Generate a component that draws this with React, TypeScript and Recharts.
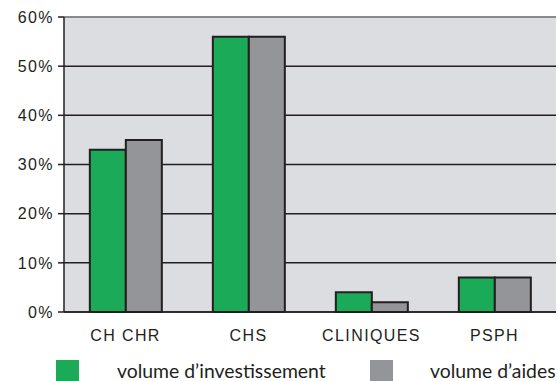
import { BarChart, Bar, XAxis, YAxis, CartesianGrid, ReferenceLine } from "recharts"

const categories = ["CH CHR", "CHS", "CLINIQUES", "PSPH"]
const investissement = [33, 56, 4, 7]
const aides = [35, 56, 2, 7]
const seriesNames = ["volume d’investissement", "volume d’aides"]
const yTicks = [0, 10, 20, 30, 40, 50, 60]

const data = categories.map((name, i) => ({ name, inv: investissement[i], aid: aides[i], pos: i }))

const GREEN = "#1bab58"
const GRAY = "#939598"
const DARK = "#231f20"
const labelFont = { fontFamily: "'Liberation Sans', Arial, sans-serif", fontSize: 16, fill: DARK, letterSpacing: 1.4 }

export default function App() {
  return (
    <div style={{ position: "absolute", left: 0, top: 0, width: 558, height: 381, background: "#fff" }}>
      <BarChart
        width={558}
        height={381}
        data={data}
        margin={{ top: 17, right: 2, left: 0, bottom: 39 }}
        barGap={0}
        barCategoryGap="21%"
      >
        <CartesianGrid fill="#dcdde0" vertical={false} stroke={DARK} strokeWidth={1.5} />
        <XAxis
          dataKey="name"
          tickLine={false}
          axisLine={{ stroke: DARK, strokeWidth: 1.5 }}
          tick={labelFont}
          height={30}
          tickMargin={12}
          interval={0}
        />
        <XAxis xAxisId="b" type="number" domain={[0, 4]} ticks={[0, 1, 2, 3, 4]} hide={false}
          axisLine={false} tick={false} tickSize={6} tickLine={{ stroke: DARK, strokeWidth: 1.5 }} height={0} />
        <YAxis
          domain={[0, 60]}
          ticks={yTicks}
          tickFormatter={(v) => `${v}%`}
          width={64}
          tickSize={6}
          tickMargin={4}
          tickLine={{ stroke: DARK, strokeWidth: 1.5 }}
          axisLine={{ stroke: DARK, strokeWidth: 1.5 }}
          tick={labelFont}
        />
        <YAxis yAxisId="r" orientation="right" width={0} tick={false} tickLine={false} axisLine={{ stroke: "#8a8c8f", strokeWidth: 2 }} />
        <ReferenceLine y={60} stroke="#9a9c9f" strokeWidth={1.5} />
        <Bar dataKey="inv" name={seriesNames[0]} fill={GREEN} stroke={DARK} strokeWidth={2} isAnimationActive={false} />
        <Bar dataKey="aid" name={seriesNames[1]} fill={GRAY} stroke={DARK} strokeWidth={2} isAnimationActive={false} />
      </BarChart>
      {/* legend */}
      {[GREEN, GRAY].map((c, i) => (
        <div key={i} style={{ position: "absolute", top: 360, left: i === 0 ? 56 : 370, display: "flex", alignItems: "center" }}>
          <div style={{ width: 23, height: 21, background: c }} />
          <span style={{ marginLeft: i === 0 ? 38 : 37, fontFamily: "Lato, sans-serif", fontSize: 19.4, color: DARK, lineHeight: "18px" }}>
            {seriesNames[i]}
          </span>
        </div>
      ))}
    </div>
  )
}
